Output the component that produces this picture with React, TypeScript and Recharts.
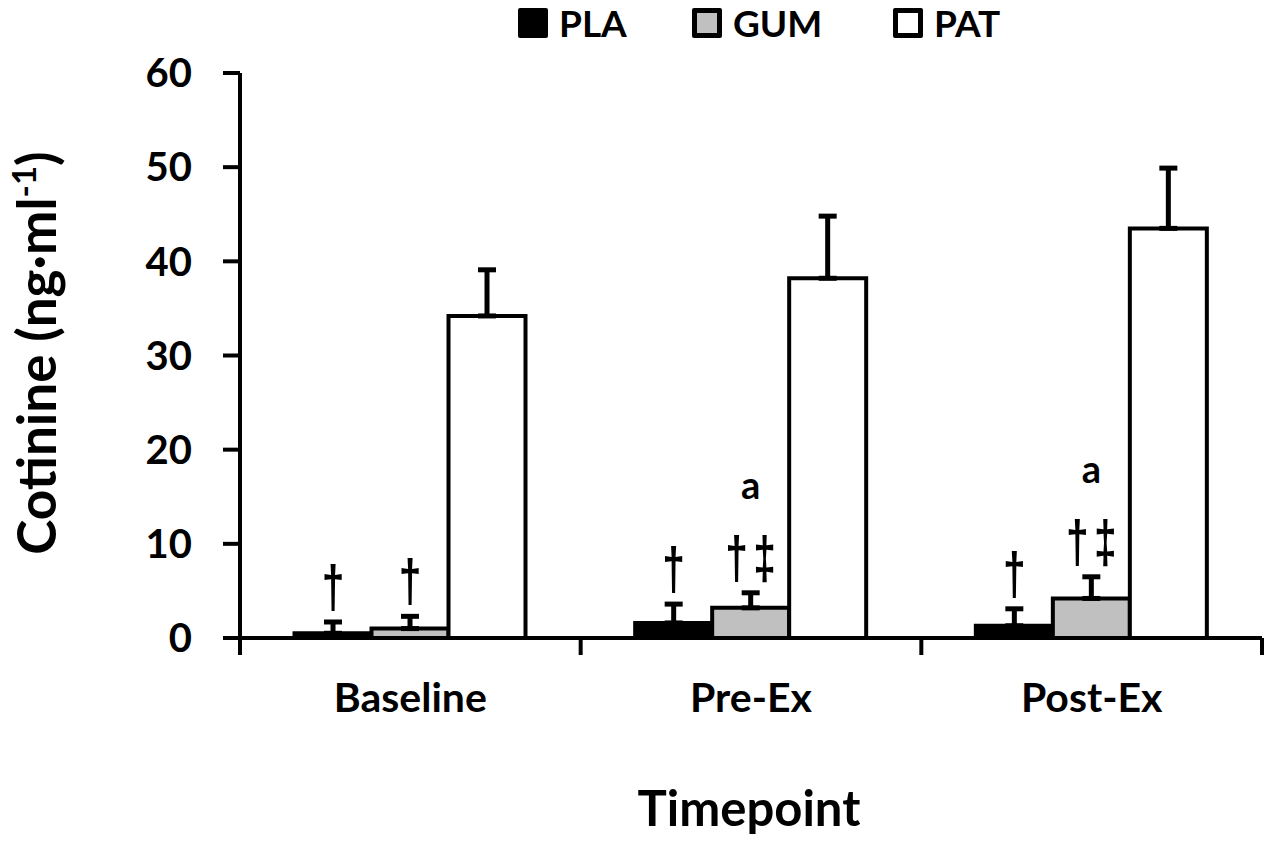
import React from "react";
import {
  BarChart,
  Bar,
  XAxis,
  YAxis,
  ErrorBar,
  LabelList,
  Legend,
  Label
} from "recharts";

const timepoints = ["Baseline", "Pre-Ex", "Post-Ex"];

const plaMean = [0.5, 1.6, 1.3];
const plaSd = [1.2, 2.0, 1.8];
const gumMean = [1.0, 3.2, 4.2];
const gumSd = [1.3, 1.6, 2.3];
const patMean = [34.2, 38.2, 43.5];
const patSd = [4.9, 6.6, 6.4];

// significance marks drawn above the bars
const plaMarks = ["†", "†", "†"];
const gumMarks = ["†", "†‡", "†‡"];
const gumLetters = ["", "a", "a"];

const yTicks = [0, 10, 20, 30, 40, 50, 60];

const FONT = "Lato";
const MARK_FONT = "Liberation Sans";

const data = timepoints.map((name, i) => ({
  name,
  pla: plaMean[i],
  plaErr: [0, plaSd[i]],
  gum: gumMean[i],
  gumErr: [0, gumSd[i]],
  pat: patMean[i],
  patErr: [0, patSd[i]]
}));

const legendItems = [
  { label: "PLA", fill: "#000000", left: 510 },
  { label: "GUM", fill: "#c0c0c0", left: 684 },
  { label: "PAT", fill: "#ffffff", left: 885 }
];

function renderLegend() {
  return (
    <div style={{ position: "relative", height: 0 }}>
      {legendItems.map((item) => (
        <div
          key={item.label}
          style={{
            position: "absolute",
            left: item.left,
            top: 0,
            display: "flex",
            alignItems: "center",
            fontFamily: FONT,
            fontWeight: 700,
            fontSize: 37,
            lineHeight: "30px",
            whiteSpace: "nowrap"
          }}
        >
          <span
            style={{
              display: "inline-block",
              width: 20,
              height: 20,
              border: "5px solid #000",
              background: item.fill,
              borderRadius: 2,
              marginRight: 11
            }}
          />
          {item.label}
        </div>
      ))}
    </div>
  );
}

function makeMarks(marks: string[], errs: number[], letters?: string[]) {
  return (props: any) => {
    const { x, y, width, height, value, index } = props;
    const perUnit = value ? Number(height) / Number(value) : 0;
    const capY = Number(y) - errs[index] * perUnit;
    const cx = Number(x) + Number(width) / 2;
    const chars = marks[index].split("");
    const spacing = 28;
    const start = cx - ((chars.length - 1) * spacing) / 2;
    return (
      <g>
        {chars.map((c, k) => (
          <text
            key={k}
            transform={`translate(${start + k * spacing}, ${capY - 15}) scale(0.68, 1)`}
            textAnchor="middle"
            fontFamily={MARK_FONT}
            fontWeight={700}
            fontSize={60}
            fill="#000"
          >
            {c}
          </text>
        ))}
        {letters && letters[index] ? (
          <text
            x={cx}
            y={capY - 94}
            textAnchor="middle"
            fontFamily={FONT}
            fontWeight={700}
            fontSize={38}
            fill="#000"
          >
            {letters[index]}
          </text>
        ) : null}
      </g>
    );
  };
}

function CategoryTick(props: any) {
  const { x, y, payload, width, visibleTicksCount, index } = props;
  const half = Number(width) / Number(visibleTicksCount) / 2;
  const last = index === visibleTicksCount - 1;
  return (
    <g>
      <line x1={x - half} y1={y} x2={x - half} y2={y + 17} stroke="#000" strokeWidth={4} />
      {last ? (
        <line x1={x + half} y1={y} x2={x + half} y2={y + 17} stroke="#000" strokeWidth={4} />
      ) : null}
      <text
        x={x}
        y={y + 74}
        textAnchor="middle"
        fontFamily={FONT}
        fontWeight={700}
        fontSize={41}
        fill="#000"
      >
        {payload.value}
      </text>
    </g>
  );
}

function App() {
  return (
    <div style={{ width: 1257, height: 831 }}>
      <BarChart
        width={1257}
        height={831}
        data={data}
        margin={{ top: 65, right: 3, bottom: 0, left: 132 }}
        barGap={0}
        barCategoryGap="16%"
      >
        <Legend
          verticalAlign="top"
          content={renderLegend}
          wrapperStyle={{ top: 0, left: 0, width: 1257 }}
        />
        <XAxis
          dataKey="name"
          height={201}
          axisLine={{ stroke: "#000", strokeWidth: 4 }}
          tickLine={false}
          tickSize={0}
          tickMargin={0}
          tick={<CategoryTick />}
          interval={0}
        >
          <Label
            content={(p: any) => {
              const vb = p.viewBox || {};
              return (
                <text
                  x={vb.x + vb.width / 2 - 2}
                  y={818}
                  textAnchor="middle"
                  fontFamily={FONT}
                  fontWeight={700}
                  fontSize={49}
                  fill="#000"
                >
                  Timepoint
                </text>
              );
            }}
          />
        </XAxis>
        <YAxis
          width={100}
          domain={[0, 60]}
          ticks={yTicks}
          interval={0}
          tickSize={17}
          tickMargin={31}
          axisLine={{ stroke: "#000", strokeWidth: 4 }}
          tickLine={{ stroke: "#000", strokeWidth: 4 }}
          tick={{
            fill: "#000",
            fontFamily: FONT,
            fontWeight: 700,
            fontSize: 40
          }}
        >
          <Label
            content={() => (
              <text
                transform="translate(48, 345) rotate(-90)"
                textAnchor="middle"
                fontFamily={FONT}
                fontWeight={700}
                fontSize={53}
                fill="#000"
              >
                Cotinine (ng·ml
                <tspan dy={-20} fontSize={33}>
                  -1
                </tspan>
                <tspan dy={20}>)</tspan>
              </text>
            )}
          />
        </YAxis>
        <Bar
          dataKey="pla"
          fill="#000000"
          stroke="#000"
          strokeWidth={4}
          isAnimationActive={false}
        >
          <ErrorBar
            dataKey="plaErr"
            direction="y"
            width={9}
            stroke="#000"
            strokeWidth={5}
          />
          <LabelList dataKey="pla" content={makeMarks(plaMarks, plaSd)} />
        </Bar>
        <Bar
          dataKey="gum"
          fill="#c0c0c0"
          stroke="#000"
          strokeWidth={4}
          isAnimationActive={false}
        >
          <ErrorBar
            dataKey="gumErr"
            direction="y"
            width={9}
            stroke="#000"
            strokeWidth={5}
          />
          <LabelList
            dataKey="gum"
            content={makeMarks(gumMarks, gumSd, gumLetters)}
          />
        </Bar>
        <Bar
          dataKey="pat"
          fill="#ffffff"
          stroke="#000"
          strokeWidth={4}
          isAnimationActive={false}
        >
          <ErrorBar
            dataKey="patErr"
            direction="y"
            width={9}
            stroke="#000"
            strokeWidth={5}
          />
        </Bar>
      </BarChart>
    </div>
  );
}

export default App;
